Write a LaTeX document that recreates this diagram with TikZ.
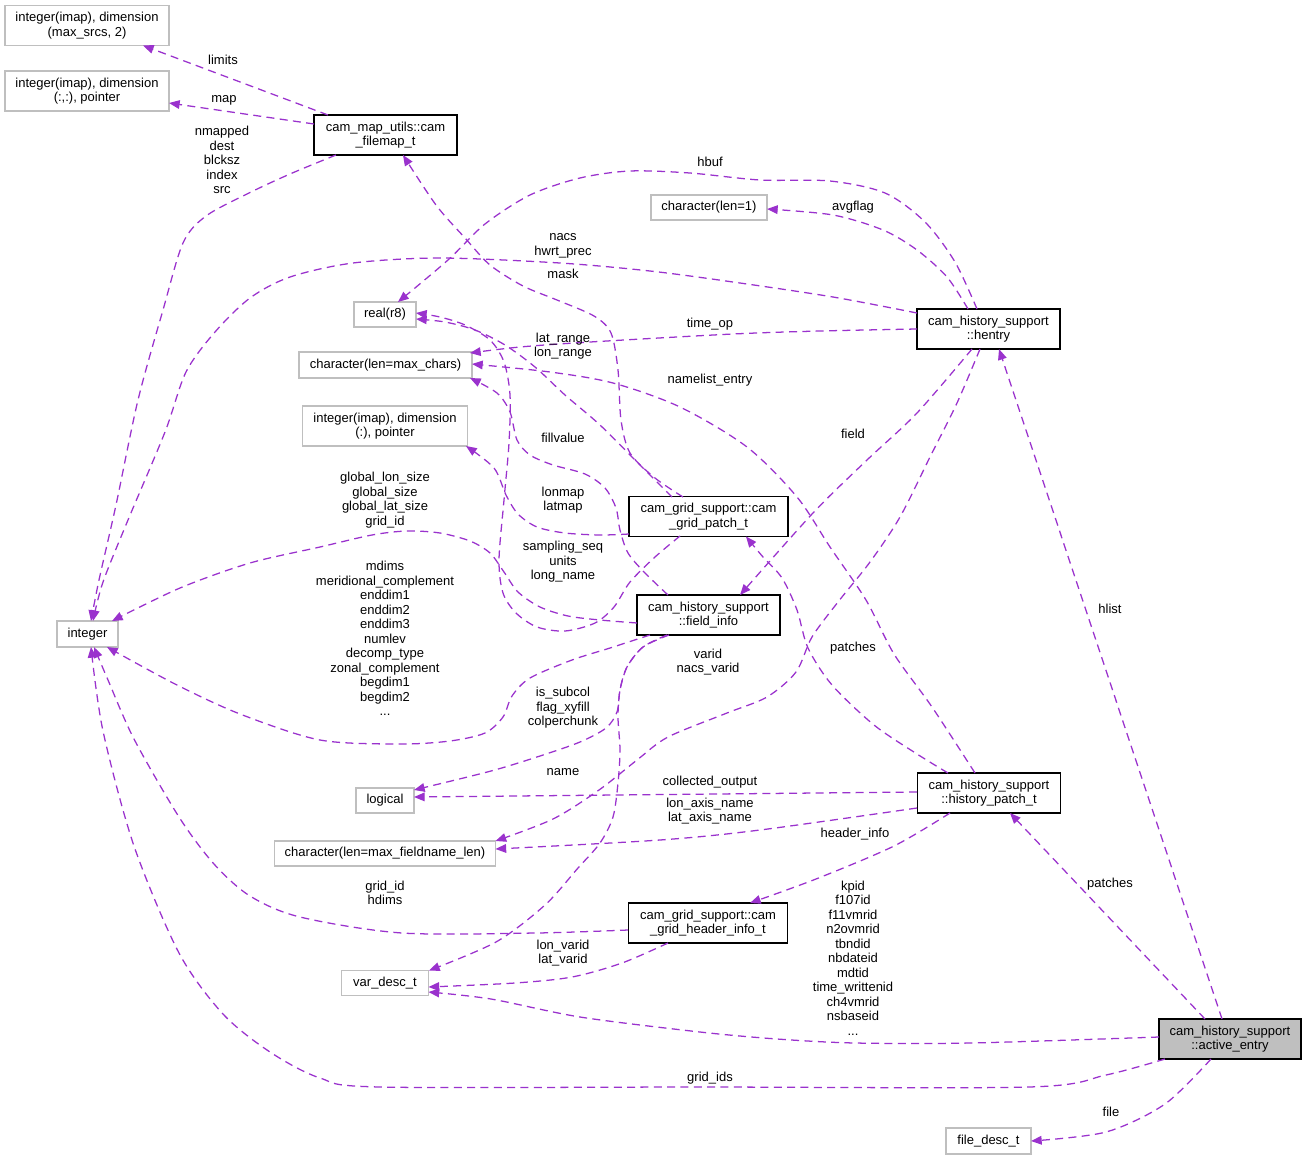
\documentclass[tikz,border=0pt]{standalone}
\usepackage{fontspec}
\setmainfont{Liberation Sans}
\usetikzlibrary{arrows.meta}
\newdimen\pxu \pxu=0.75pt
\definecolor{edgecol}{HTML}{9A32CD}
\definecolor{boxgray}{HTML}{BFBFBF}
\newcommand\lab{\fontsize{9.75pt}{10.9pt}\selectfont}
\begin{document}
\begin{tikzpicture}[x=0.75pt,y=-0.75pt,
  base/.style={rectangle, inner sep=0pt, align=center, font=\lab, text=black},
  gbox/.style={base, draw=boxgray, line width=1pt},
  bbox/.style={base, draw=black, line width=1.1pt},
  sz/.style 2 args={minimum width=#1\pxu, minimum height=#2\pxu},
  conn/.style={draw=edgecol, line width=0.95pt, dash pattern=on 6pt off 4pt,
     -{Triangle[length=8pt,width=6.5pt]}},
  lbl/.style={font=\lab, align=center, inner sep=0pt}]
\useasboundingbox (0,0) rectangle (1307,1157);

% ---------- nodes ----------
\node[gbox, sz={164}{40}] (dimA) at (87,25.5) {integer(imap), dimension\\(max\_srcs, 2)};
\node[gbox, sz={164}{40}] (dimB) at (87,91) {integer(imap), dimension\\(:,:), pointer};
\node[bbox, sz={143}{40}] (filemap) at (385.5,135) {cam\_map\_utils::cam\\\_filemap\_t};
\node[gbox, sz={116}{25}] (char1) at (709,207.5) {character(len=1)};
\node[gbox, sz={62}{25}] (real) at (385,314.5) {real(r8)};
\node[gbox, sz={173}{26}] (charmax) at (385.5,365) {character(len=max\_chars)};
\node[gbox, sz={165}{40}] (dimC) at (385,426) {integer(imap), dimension\\(:), pointer};
\node[bbox, sz={143}{40}] (hentry) at (988.5,329) {cam\_history\_support\\::hentry};
\node[bbox, sz={159}{40}] (patch) at (708.5,516.5) {cam\_grid\_support::cam\\\_grid\_patch\_t};
\node[bbox, sz={143}{40}] (field) at (708.5,615) {cam\_history\_support\\::field\_info};
\node[gbox, sz={61}{26}] (integer) at (87.5,634) {integer};
\node[gbox, sz={58}{25}] (logical) at (385,800.5) {logical};
\node[gbox, sz={221}{25}] (charfn) at (385,853.5) {character(len=max\_fieldname\_len)};
\node[bbox, sz={143}{40}] (hpatch) at (989,793) {cam\_history\_support\\::history\_patch\_t};
\node[bbox, sz={159}{40}] (header) at (708,923) {cam\_grid\_support::cam\\\_grid\_header\_info\_t};
\node[gbox, sz={87}{25}] (vardesc) at (385,983) {var\_desc\_t};
\node[bbox, sz={142}{40}, fill=boxgray] (active) at (1230,1039) {cam\_history\_support\\::active\_entry};
\node[gbox, sz={85}{26}] (filedesc) at (988.5,1141) {file\_desc\_t};

% ---------- connectors ----------
% filemap
\draw[conn] ([shift={(-57.5,-20)}]filemap.center) -- ([shift={(56,20)}]dimA.center);
\draw[conn] ([shift={(-71.5,-11)}]filemap.center) -- ([shift={(82,12)}]dimB.center);
\draw[conn] plot[smooth] coordinates {([shift={(-49.5,20)}]filemap.center) (290,174) (249,193) (206,216) (183,243) (163,310) (138,400) (116,505) (99,580) ([shift={(3.5,-13)}]integer.center)};
% hentry
\draw[conn] plot[smooth] coordinates {([shift={(-11.5,-20)}]hentry.center) (955,262) (925,222) (885,193) (830,181) (760,180) (690,173) (630,171) (580,178) (530,195) (485,224) (448,260) ([shift={(13,-12.5)}]real.center)};
\draw[conn] plot[smooth] coordinates {([shift={(-20.5,-20)}]hentry.center) (947,277) (917,250) (883,230) (833,215) ([shift={(58,1.5)}]char1.center)};
\draw[conn] plot[smooth] coordinates {([shift={(-71.5,-16)}]hentry.center) (833,297) (733,282) (650,271) (560,263) (440,258) (353,263) (290,277) (250,298) (215,332) (186,372) (165,432) (128,520) (103,582) ([shift={(5.5,-13)}]integer.center)};
\draw[conn] plot[smooth] coordinates {([shift={(-8.5,20)}]hentry.center) (957,403) (930,457) (900,517) (870,562) (838,602) (812,637) (796,672) (767,697) (727,713) (668,737) (637,760) (599,790) (553,819) ([shift={(110.5,-12.5)}]charfn.center)};
\draw[conn] plot[smooth] coordinates {([shift={(-16.5,20)}]hentry.center) (917,413) (867,460) (813,513) ([shift={(31.5,-20)}]field.center)};
\draw[conn] plot[smooth] coordinates {([shift={(-71.5,0)}]hentry.center) (820,331) (733,334) (590,342) (520,347) ([shift={(84.5,-12)}]charmax.center)};
% patch
\draw[conn] plot[smooth] coordinates {([shift={(-25.5,-19.5)}]patch.center) (655,478) (630,453) (621,420) (618,370) (611,333) (594,316) (557,300) (523,286) (490,265) (465,238) (436,205) ([shift={(17.5,20)}]filemap.center)};
\draw[conn] plot[smooth] coordinates {([shift={(-36.5,-19.5)}]patch.center) (640,465) (600,425) (565,395) (535,367) (505,345) (475,330) (445,322) ([shift={(31,4.5)}]real.center)};
\draw[conn] plot[smooth] coordinates {([shift={(-28.5,19.5)}]patch.center) (655,557) (630,582) (614,607) (595,623) (565,631) (537,627) (516,613) (503,593) (499,560) (504,500) (509,443) (510,395) (504,362) (490,340) (465,325) (440,317) ([shift={(31,-1.5)}]real.center)};
\draw[conn] plot[smooth] coordinates {([shift={(-79.5,17.5)}]patch.center) (600,535) (565,533) (537,527) (518,514) (506,495) (494,468) ([shift={(81,20)}]dimC.center)};
% field
\draw[conn] plot[smooth] coordinates {([shift={(-40.5,-20)}]field.center) (645,573) (628,553) (620,530) (616,508) (605,488) (585,474) (553,465) (530,455) (517,440) (510,412) (497,393) ([shift={(84.5,13)}]charmax.center)};
\draw[conn] plot[smooth] coordinates {([shift={(-71.5,8)}]field.center) (600,620) (568,616) (540,607) (518,592) (504,572) (490,553) (470,541) (440,533) (407,531) (372,535) (320,547) (250,563) (180,588) ([shift={(24.5,-13)}]integer.center)};
\draw[conn] plot[smooth] coordinates {([shift={(-58.5,20)}]field.center) (610,648) (572,660) (530,678) (512,696) (503,717) (485,733) (450,741) (400,744) (320,740) (240,714) (175,684) ([shift={(19.5,13)}]integer.center)};
\draw[conn] plot[smooth] coordinates {([shift={(-41.5,20)}]field.center) (643,647) (627,667) (620,690) (617,712) (606,728) (580,742) (540,756) (491,771) ([shift={(29,-10.5)}]logical.center)};
\draw[conn] plot[smooth] coordinates {([shift={(-39.5,20)}]field.center) (643,647) (627,667) (620,690) (618,717) (620,750) (618,783) (613,817) (600,843) (578,868) (545,905) (496,942) ([shift={(44,-12.5)}]vardesc.center)};
% history_patch_t
\draw[conn] plot[smooth] coordinates {([shift={(-14,-20)}]hpatch.center) (932,707) (894,654) (866,600) (830,547) (797,497) (747,447) (680,407) (613,383) (550,372) ([shift={(86.5,-1)}]charmax.center)};
\draw[conn] plot[smooth] coordinates {([shift={(-41,-20)}]hpatch.center) (917,754) (874,725) (832,685) (808,648) (797,610) (782,578) (763,557) ([shift={(37.5,20)}]patch.center)};
\draw[conn] ([shift={(-72,-1)}]hpatch.center) -- ([shift={(29,-3.5)}]logical.center);
\draw[conn] plot[smooth] coordinates {([shift={(-72,15)}]hpatch.center) (760,830) (660,840) ([shift={(110.5,-4.5)}]charfn.center)};
\draw[conn] plot[smooth] coordinates {([shift={(-39,20)}]hpatch.center) (894,846) (816,879) ([shift={(42,-20)}]header.center)};
% header
\draw[conn] plot[smooth] coordinates {([shift={(-80,7)}]header.center) (536,933) (402,933) (300,917) (250,896) (214,864) (179,817) (134,739) (108,680) ([shift={(6.5,13)}]integer.center)};
\draw[conn] plot[smooth] coordinates {([shift={(-40,20)}]header.center) (622,963) (572,977) (515,983) ([shift={(43.5,4)}]vardesc.center)};
% active_entry
\draw[conn] ([shift={(-8,-20)}]active.center) -- ([shift={(10.5,20)}]hentry.center);
\draw[conn] ([shift={(-25,-20)}]active.center) -- ([shift={(21,20)}]hpatch.center);
\draw[conn] plot[smooth] coordinates {([shift={(-71,-2)}]active.center) (971,1043) (855,1043) (777,1039) (700,1032) (580,1017) (491,999) ([shift={(43.5,9)}]vardesc.center)};
\draw[conn] plot[smooth] coordinates {([shift={(-65,20)}]active.center) (1106,1075) (1029,1087) (700,1087) (380,1087) (320,1078) (270,1052) (223,1014) (179,953) (134,846) (103,731) ([shift={(3.5,13)}]integer.center)};
\draw[conn] plot[smooth] coordinates {([shift={(-19,20)}]active.center) (1165,1104) (1106,1132) ([shift={(42.5,0)}]filedesc.center)};

% ---------- labels ----------
\node[lbl] (tLimits) at (223,60) {limits};
\node[lbl] (tMap) at (224,100) {map};
\node[lbl] (tNmapped) at (222,160) {nmapped\\dest\\blcksz\\index\\src};
\node[lbl] (tHbuf) at (710,162) {hbuf};
\node[lbl] (tAvg) at (853,207) {avgflag};
\node[lbl] (tNacs) at (563,246) {nacs\\hwrt\_prec};
\node[lbl] (tMask) at (563,274) {mask};
\node[lbl] (tTimeop) at (710,324) {time\_op};
\node[lbl] (tRange) at (563,346) {lat\_range\\lon\_range};
\node[lbl] (tNamelist) at (710,380) {namelist\_entry};
\node[lbl] (tField) at (853,434) {field};
\node[lbl] (tFill) at (563,438) {fillvalue};
\node[lbl] (tGlobal) at (385,500) {global\_lon\_size\\global\_size\\global\_lat\_size\\grid\_id};
\node[lbl] (tLonmap) at (563,500) {lonmap\\latmap};
\node[lbl] (tSampling) at (563,562) {sampling\_seq\\units\\long\_name};
\node[lbl] (tMdims) at (385,638.5) {mdims\\meridional\_complement\\enddim1\\enddim2\\enddim3\\numlev\\decomp\_type\\zonal\_complement\\begdim1\\begdim2\\...};
\node[lbl] (tHlist) at (1110,609) {hlist};
\node[lbl] (tPatchesA) at (853,648) {patches};
\node[lbl] (tVarid) at (708,662) {varid\\nacs\_varid};
\node[lbl] (tSubcol) at (563,708) {is\_subcol\\flag\_xyfill\\colperchunk};
\node[lbl] (tName) at (563,772) {name};
\node[lbl] (tCollected) at (710,782) {collected\_output};
\node[lbl] (tAxis) at (710,811) {lon\_axis\_name\\lat\_axis\_name};
\node[lbl] (tHeader) at (855,834) {header\_info};
\node[lbl] (tPatchesB) at (1110,884) {patches};
\node[lbl] (tGridid) at (385,893) {grid\_id\\hdims};
\node[lbl] (tKpid) at (853,958) {kpid\\f107id\\f11vmrid\\n2ovmrid\\tbndid\\nbdateid\\mdtid\\time\_writtenid\\ch4vmrid\\nsbaseid\\...};
\node[lbl] (tLonvarid) at (563,953) {lon\_varid\\lat\_varid};
\node[lbl] (tGridids) at (710,1078) {grid\_ids};
\node[lbl] (tFile) at (1111,1112) {file};
\end{tikzpicture}
\end{document}
